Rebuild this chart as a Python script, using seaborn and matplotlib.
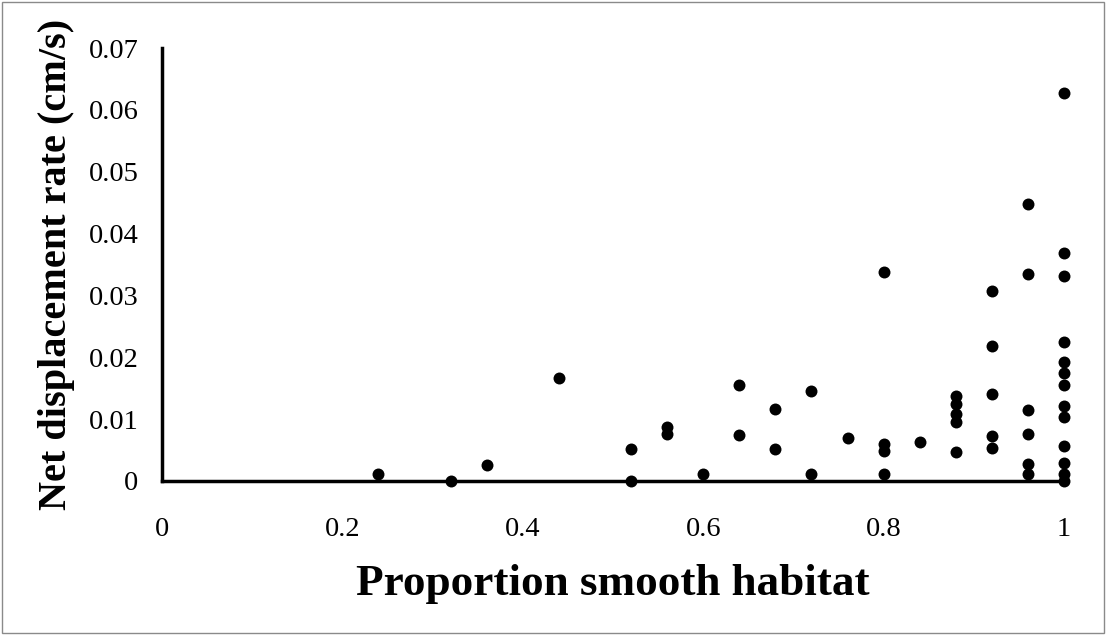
import matplotlib
matplotlib.use("Agg")
import matplotlib.pyplot as plt
import seaborn as sns
import pandas as pd
from matplotlib.patches import Rectangle

# ---- data ----
proportion_smooth = (
    [0.24, 0.32, 0.36, 0.44]
    + [0.52] * 2
    + [0.56] * 2
    + [0.60]
    + [0.64] * 2
    + [0.68] * 2
    + [0.72] * 2
    + [0.76]
    + [0.80] * 4
    + [0.84]
    + [0.88] * 5
    + [0.92] * 5
    + [0.96] * 6
    + [1.00] * 13
)
net_displacement = [
    0.0012, 0.0, 0.0026, 0.0167,
    0.0051, 0.0,
    0.0087, 0.0076,
    0.0011,
    0.0156, 0.0074,
    0.0117, 0.0051,
    0.0145, 0.0011,
    0.0070,
    0.0338, 0.0060, 0.0048, 0.0011,
    0.0063,
    0.0137, 0.0125, 0.0109, 0.0095, 0.0047,
    0.0307, 0.0218, 0.0140, 0.0073, 0.0054,
    0.0447, 0.0334, 0.0115, 0.0076, 0.0028, 0.0012,
    0.0628, 0.0369, 0.0331, 0.0224, 0.0193, 0.0174, 0.0155, 0.0122,
    0.0103, 0.0057, 0.0029, 0.0011, 0.0,
]
x_ticks = [0, 0.2, 0.4, 0.6, 0.8, 1.0]
x_tick_labels = ["0", "0.2", "0.4", "0.6", "0.8", "1"]
y_ticks = [0, 0.01, 0.02, 0.03, 0.04, 0.05, 0.06, 0.07]
y_tick_labels = ["0", "0.01", "0.02", "0.03", "0.04", "0.05", "0.06", "0.07"]

df = pd.DataFrame({"x": proportion_smooth, "y": net_displacement})

sns.set_style("white")
plt.rcParams["font.family"] = ["Liberation Serif", "DejaVu Serif"]
plt.rcParams["text.color"] = "black"
plt.rcParams["axes.labelcolor"] = "black"

fig = plt.figure(figsize=(11.06, 6.35), dpi=100)
ax = fig.add_axes([162 / 1106, 1 - 481 / 635, (1064 - 162) / 1106, (481 - 48) / 635])

sns.scatterplot(data=df, x="x", y="y", ax=ax, color="black", s=74,
                edgecolor="black", linewidth=0, clip_on=False, zorder=5)

ax.set_xlim(0, 1)
ax.set_ylim(0, 0.07)
ax.set_xticks(x_ticks)
ax.set_xticklabels(x_tick_labels)
ax.set_yticks(y_ticks)
ax.set_yticklabels(y_tick_labels)

for side in ["top", "right"]:
    ax.spines[side].set_visible(False)
for side in ["left", "bottom"]:
    ax.spines[side].set_linewidth(2.5)
    ax.spines[side].set_color("black")

ax.tick_params(axis="both", which="major", direction="out", length=6, width=2.0,
               colors="black", labelcolor="black", labelsize=20.5)
ax.tick_params(axis="x", pad=20)
ax.tick_params(axis="y", pad=11)

ax.set_xlabel("Proportion smooth habitat", fontsize=32.5, fontweight="bold",
              labelpad=16, color="black")
ax.set_ylabel("Net displacement rate (cm/s)", fontsize=29, fontweight="bold",
              labelpad=10, color="black")

# thin grey frame around the whole figure
fig.patches.append(Rectangle((0.002, 0.003), 0.996, 0.994, transform=fig.transFigure,
                             fill=False, edgecolor="#8a8a8a", linewidth=1.0))

fig.savefig("out.png", dpi=100)
